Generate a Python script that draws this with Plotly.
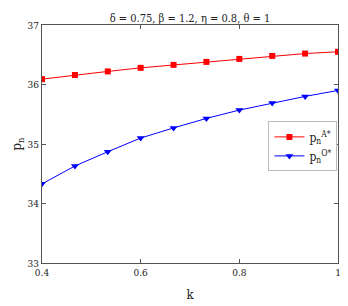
import plotly.graph_objects as go

k = [0.4, 0.4667, 0.5333, 0.6, 0.6667, 0.7333, 0.8, 0.8667, 0.9333, 1.0]
p_A = [36.09, 36.16, 36.22, 36.28, 36.33, 36.38, 36.43, 36.48, 36.52, 36.55]
p_O = [34.33, 34.63, 34.87, 35.10, 35.27, 35.43, 35.57, 35.69, 35.80, 35.90]
x_ticks = [0.4, 0.6, 0.8, 1]
x_ticklabels = ["0.4", "0.6", "0.8", "1"]
y_ticks = [33, 34, 35, 36, 37]

font = "DejaVu Serif Condensed, DejaVu Serif"

fig = go.Figure()
fig.add_trace(go.Scatter(
    x=k, y=p_A, mode="lines+markers", name="p<sub>n</sub><sup>A*</sup>",
    line=dict(color="#ff0000", width=1),
    marker=dict(symbol="square", size=6, color="#ff0000")))
fig.add_trace(go.Scatter(
    x=k, y=p_O, mode="lines+markers", name="p<sub>n</sub><sup>O*</sup>",
    line=dict(color="#0000ff", width=1),
    marker=dict(symbol="triangle-down", size=7, color="#0000ff")))

axis_common = dict(showline=True, linecolor="#555555", linewidth=1, mirror="ticks",
                   ticks="inside", ticklen=4, tickcolor="#555555", showgrid=False,
                   zeroline=False, automargin=False,
                   tickfont=dict(family=font, size=10, color="#222222"))

fig.update_layout(
    width=340, height=298,
    margin=dict(l=34, r=10, t=17, b=43),
    paper_bgcolor="white", plot_bgcolor="white",
    font=dict(family=font, color="#222222"),
    title=dict(text="δ = 0.75, β = 1.2, η = 0.8, θ = 1", x=0.5, xref="paper", xanchor="center",
               y=0.965, yanchor="middle", font=dict(family=font, size=11, color="#222222")),
    xaxis=dict(range=[0.4, 1], tickvals=x_ticks, ticktext=x_ticklabels,
               title=dict(text="k", font=dict(family=font, size=13), standoff=12),
               **axis_common),
    yaxis=dict(range=[33, 37], tickvals=y_ticks,
               title=dict(text="p<sub>n</sub>", font=dict(family=font, size=13), standoff=2),
               **axis_common),
    legend=dict(x=0.765, y=0.595, xanchor="left", yanchor="top",
                bordercolor="#bbbbbb", borderwidth=1, bgcolor="white",
                font=dict(family=font, size=12), tracegroupgap=0,
                itemwidth=30),
    showlegend=True,
)

fig.write_html("out.html")
